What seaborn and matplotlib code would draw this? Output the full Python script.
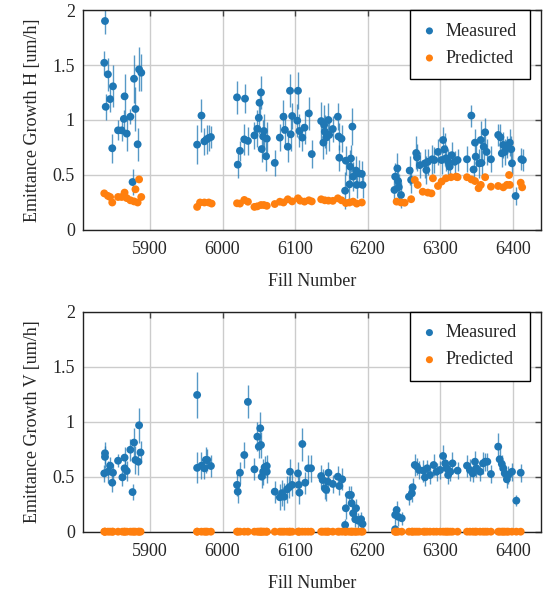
import numpy as np
import pandas as pd
import matplotlib
matplotlib.use("Agg")
import matplotlib.pyplot as plt
import seaborn as sns

# --- horizontal plane: measured growth (fill, value, error) ---
fills_h = [5837, 5838, 5839, 5842, 5845, 5848, 5849, 5856, 5861, 5864, 5865, 5868, 5873, 5876,
           5878, 5880, 5883, 5885, 5888,
           5965, 5971, 5975, 5978, 5981, 5984,
           6020, 6021, 6024, 6030, 6031, 6035, 6044, 6048, 6050, 6051, 6053, 6054, 6056, 6057,
           6060, 6061, 6072, 6079, 6084, 6086, 6090, 6093, 6094, 6096, 6104, 6103, 6106, 6110,
           6113, 6119, 6123, 6136, 6140, 6141, 6139, 6143, 6146, 6147, 6152, 6159, 6160, 6161,
           6164, 6170, 6169, 6176, 6177, 6175, 6179, 6180, 6184, 6185, 6188, 6192, 6193,
           6238, 6237, 6241, 6242, 6243, 6246, 6258, 6260, 6267, 6268, 6272, 6279, 6281, 6283,
           6289, 6292, 6297, 6302, 6304, 6306, 6308, 6311, 6313, 6316, 6320, 6324, 6337, 6343,
           6346, 6348, 6349, 6354, 6356, 6357, 6360, 6362, 6364, 6370, 6380, 6383, 6385, 6387,
           6389, 6392, 6396, 6398, 6399, 6404, 6412, 6414]
meas_h = [1.52, 1.90, 1.12, 1.415, 1.19, 0.743, 1.306, 0.906, 0.906, 1.01, 1.215, 0.876, 1.03, 0.436,
          1.375, 1.10, 0.779, 1.46, 1.43,
          0.776, 1.04, 0.806, 0.824, 0.836, 0.845,
          1.206, 0.594, 0.72, 0.824, 1.194, 0.81, 0.86, 0.92, 1.02, 1.157, 1.25, 0.736, 0.85, 0.90,
          0.67, 0.83, 0.61, 0.84, 1.03, 0.91, 0.757, 1.266, 0.87, 1.036, 1.266, 0.994, 0.90, 0.84,
          0.93, 1.06, 0.69, 0.99, 0.955, 0.894, 0.794, 0.84, 1.0, 0.864, 0.918, 1.03, 0.85, 0.657,
          0.83, 0.63, 0.357, 0.576, 0.65, 0.415, 0.94, 0.485, 0.54, 0.41, 0.515, 0.51, 0.41,
          0.485, 0.364, 0.56, 0.445, 0.39, 0.318, 0.54, 0.455, 0.70, 0.66, 0.59, 0.606, 0.545, 0.62,
          0.643, 0.636, 0.71, 0.636, 0.818, 0.734, 0.652, 0.62, 0.575, 0.68, 0.62, 0.636, 0.643, 1.04,
          0.55, 0.794, 0.667, 0.606, 0.818, 0.61, 0.757, 0.888, 0.71, 0.643, 0.864, 0.843, 0.697, 0.773,
          0.71, 0.757, 0.794, 0.734, 0.606, 0.309, 0.643, 0.636]
err_h = [0.11, 0.12, 0.12, 0.15, 0.12, 0.13, 0.19, 0.09, 0.10, 0.08, 0.20, 0.16, 0.07, 0.12,
         0.22, 0.20, 0.15, 0.20, 0.17,
         0.18, 0.15, 0.12, 0.13, 0.12, 0.10,
         0.15, 0.12, 0.09, 0.14, 0.13, 0.13, 0.12, 0.17, 0.15, 0.13, 0.15, 0.12, 0.15, 0.15,
         0.13, 0.15, 0.12, 0.12, 0.15, 0.15, 0.14, 0.15, 0.15, 0.12, 0.17, 0.15, 0.15, 0.12,
         0.15, 0.15, 0.13, 0.17, 0.18, 0.15, 0.15, 0.15, 0.15, 0.15, 0.12, 0.12, 0.12, 0.12,
         0.12, 0.13, 0.17, 0.15, 0.12, 0.15, 0.17, 0.13, 0.13, 0.12, 0.12, 0.12, 0.12,
         0.12, 0.12, 0.14, 0.12, 0.12, 0.12, 0.13, 0.12, 0.15, 0.12, 0.12, 0.13, 0.13, 0.12,
         0.13, 0.12, 0.12, 0.13, 0.12, 0.15, 0.12, 0.12, 0.12, 0.12, 0.10, 0.10, 0.12, 0.10,
         0.12, 0.12, 0.13, 0.13, 0.17, 0.12, 0.12, 0.13, 0.12, 0.12, 0.10, 0.12, 0.12, 0.12,
         0.12, 0.10, 0.12, 0.12, 0.10, 0.08, 0.10, 0.10]

# --- horizontal plane: predicted growth ---
fills_pred_h = [5837, 5842, 5845, 5848, 5856, 5861, 5865, 5868, 5873, 5878, 5880, 5883, 5885, 5888,
                5965, 5969, 5975, 5981, 5985,
                6020, 6024, 6030, 6035, 6044, 6048, 6053, 6057, 6061, 6072, 6079, 6084, 6090, 6096,
                6104, 6107, 6113, 6119, 6123, 6136, 6141, 6146, 6152, 6159, 6164, 6170, 6175, 6180,
                6185, 6192,
                6240, 6246, 6251, 6260, 6265, 6269, 6276, 6283, 6288, 6290, 6297, 6302, 6308, 6315,
                6322, 6324, 6337, 6343, 6348, 6353, 6356, 6362, 6370, 6380, 6387, 6392, 6395, 6396,
                6411, 6413]
pred_h = [0.333, 0.31, 0.30, 0.25, 0.30, 0.30, 0.34, 0.29, 0.27, 0.26, 0.37, 0.25, 0.46, 0.30,
          0.21, 0.25, 0.25, 0.25, 0.24,
          0.243, 0.24, 0.273, 0.257, 0.21, 0.215, 0.227, 0.227, 0.22, 0.236, 0.257, 0.25, 0.279, 0.26,
          0.288, 0.267, 0.258, 0.27, 0.26, 0.279, 0.27, 0.267, 0.265, 0.288, 0.27, 0.245, 0.25, 0.258,
          0.24, 0.25,
          0.258, 0.25, 0.248, 0.28, 0.455, 0.41, 0.348, 0.34, 0.333, 0.47, 0.40, 0.44, 0.47, 0.48,
          0.485, 0.48, 0.48, 0.46, 0.445, 0.38, 0.41, 0.48, 0.394, 0.40, 0.388, 0.41, 0.50, 0.41,
          0.43, 0.388]

# --- vertical plane: measured growth (fill, value, error) ---
fills_v = [5838, 5838, 5837, 5842, 5845, 5849, 5848, 5856, 5862, 5865, 5865, 5868, 5873, 5878,
           5876, 5880, 5884, 5885, 5887,
           5965, 5965, 5971, 5975, 5977, 5979, 5984,
           6020, 6021, 6024, 6030, 6035, 6044, 6048, 6050, 6052, 6053, 6054, 6056, 6058, 6061,
           6061, 6072, 6079, 6082, 6085, 6089, 6093, 6092, 6096, 6104, 6105, 6106, 6110, 6114,
           6118, 6122, 6136, 6138, 6141, 6143, 6146, 6145, 6152, 6159, 6161, 6165, 6169, 6170,
           6174, 6177, 6178, 6180, 6184, 6183, 6187, 6191, 6193,
           6238, 6238, 6240, 6242, 6247, 6257, 6261, 6262, 6265, 6268, 6271, 6277, 6279, 6282,
           6286, 6291, 6295, 6300, 6304, 6307, 6309, 6311, 6314, 6317, 6324, 6337, 6341, 6345,
           6348, 6350, 6355, 6359, 6362, 6365, 6370, 6380, 6382, 6385, 6387, 6389, 6392, 6394,
           6399, 6405, 6411]
meas_v = [0.713, 0.68, 0.53, 0.545, 0.60, 0.536, 0.445, 0.645, 0.494, 0.576, 0.673, 0.552, 0.745, 0.81,
          0.36, 0.652, 0.636, 0.967, 0.72,
          1.243, 0.58, 0.60, 0.576, 0.652, 0.652, 0.597,
          0.425, 0.364, 0.536, 0.697, 1.18, 0.567, 0.864, 0.773, 0.94, 0.788, 0.50, 0.545, 0.585, 0.597,
          0.545, 0.364, 0.313, 0.35, 0.318, 0.385, 0.545, 0.404, 0.425, 0.53, 0.425, 0.355, 0.797, 0.445,
          0.576, 0.576, 0.506, 0.47, 0.394, 0.379, 0.536, 0.455, 0.434, 0.50, 0.415, 0.476, 0.061, 0.213,
          0.334, 0.334, 0.258, 0.167, 0.213, 0.113, 0.10, 0.113, 0.07,
          0.022, 0.152, 0.197, 0.136, 0.122, 0.318, 0.349, 0.404, 0.606, 0.591, 0.561, 0.555, 0.494, 0.576,
          0.515, 0.606, 0.545, 0.561, 0.688, 0.621, 0.576, 0.515, 0.545, 0.621, 0.555, 0.60, 0.561, 0.53,
          0.636, 0.576, 0.545, 0.621, 0.636, 0.636, 0.524, 0.773, 0.658, 0.615, 0.576, 0.53, 0.476, 0.515,
          0.545, 0.282, 0.536]
err_v = [0.1, 0.1, 0.08, 0.1, 0.08, 0.08, 0.08, 0.06, 0.08, 0.1, 0.1, 0.09, 0.1, 0.13,
         0.07, 0.13, 0.12, 0.16, 0.1,
         0.21, 0.14, 0.12, 0.1, 0.12, 0.1, 0.1,
         0.1, 0.1, 0.1, 0.12, 0.15, 0.1, 0.13, 0.1, 0.15, 0.12, 0.1, 0.12, 0.1, 0.1,
         0.1, 0.1, 0.12, 0.12, 0.12, 0.12, 0.12, 0.1, 0.1, 0.1, 0.1, 0.1, 0.15, 0.1,
         0.12, 0.12, 0.1, 0.1, 0.1, 0.1, 0.1, 0.1, 0.08, 0.1, 0.08, 0.1, 0.05, 0.1,
         0.08, 0.08, 0.08, 0.08, 0.08, 0.07, 0.07, 0.07, 0.06,
         0.05, 0.08, 0.08, 0.08, 0.06, 0.08, 0.08, 0.08, 0.1, 0.08, 0.08, 0.1, 0.08, 0.08,
         0.08, 0.1, 0.08, 0.08, 0.1, 0.08, 0.08, 0.08, 0.08, 0.1, 0.08, 0.1, 0.1, 0.08,
         0.1, 0.08, 0.08, 0.1, 0.08, 0.08, 0.08, 0.12, 0.1, 0.08, 0.08, 0.08, 0.08, 0.08,
         0.08, 0.05, 0.08]

# predicted vertical growth is zero for every fill
pred_v = [0.0] * len(fills_v)

BLUE = "#1f77b4"
ORANGE = "#ff7f0e"

sns.set_style("white")
plt.rcParams["font.family"] = ["Liberation Serif", "DejaVu Serif"]
plt.rcParams["font.size"] = 13


def draw_panel(ax, fills, meas, err, pfills, pred, ylabel, legend):
    ax.errorbar(fills, meas, yerr=err, fmt="none", ecolor=BLUE, elinewidth=1.0,
                alpha=0.75, zorder=2)
    df_m = pd.DataFrame({"fill": fills, "value": meas})
    df_p = pd.DataFrame({"fill": pfills, "value": pred})
    sns.scatterplot(data=df_m, x="fill", y="value", ax=ax, color=BLUE, s=32,
                    edgecolor="none", label="Measured", zorder=3, clip_on=False)
    sns.scatterplot(data=df_p, x="fill", y="value", ax=ax, color=ORANGE, s=32,
                    edgecolor="none", label="Predicted", zorder=4, clip_on=False)

    ax.set_xlim(5808, 6439)
    ax.set_ylim(0, 2)
    ax.set_xticks([5900, 6000, 6100, 6200, 6300, 6400])
    ax.set_yticks([0, 0.5, 1, 1.5, 2])
    ax.set_yticklabels(["0", "0.5", "1", "1.5", "2"])
    ax.grid(True, color="#cccccc", linewidth=1.0)
    ax.set_axisbelow(True)
    ax.tick_params(direction="in", length=4, width=1, color="#444444",
                   top=True, right=True, labelsize=13)
    ax.tick_params(axis="x", pad=8)
    ax.tick_params(axis="y", pad=6)
    for sp in ax.spines.values():
        sp.set_color("#222222")
        sp.set_linewidth(1.0)
    ax.set_xlabel("Fill Number", fontsize=13, labelpad=11)
    ax.set_ylabel(ylabel, fontsize=13, labelpad=8)
    if legend:
        ax.legend(loc="upper right", bbox_to_anchor=(0.975, 1.0), borderaxespad=0.0,
                  frameon=True, fancybox=False, edgecolor="black", framealpha=1,
                  fontsize=13, handlelength=0.8, handletextpad=0.5, borderpad=0.7,
                  labelspacing=0.56, markerscale=0.9)


fig = plt.figure(figsize=(5.44, 5.92), dpi=100)
ax1 = fig.add_axes([0.153, 0.6115, 0.8415, 0.3716])
ax2 = fig.add_axes([0.153, 0.1019, 0.8415, 0.3716])

draw_panel(ax1, fills_h, meas_h, err_h, fills_pred_h, pred_h,
           "Emittance Growth H [um/h]", True)
draw_panel(ax2, fills_v, meas_v, err_v, fills_v, pred_v,
           "Emittance Growth V [um/h]", True)

fig.savefig("out.png", dpi=100)
